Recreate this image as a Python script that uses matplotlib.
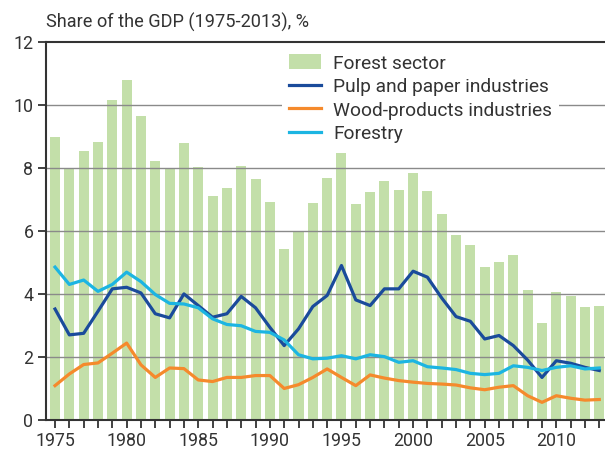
import numpy as np
import matplotlib.pyplot as plt

years = list(range(1975, 2014))

forest_sector = [8.97, 7.95, 8.52, 8.83, 10.14, 10.8, 9.63, 8.23, 7.99, 8.8,
                 8.02, 7.09, 7.37, 8.05, 7.66, 6.91, 5.43, 6.01, 6.88, 7.69,
                 8.46, 6.84, 7.22, 7.57, 7.31, 7.82, 7.25, 6.52, 5.88, 5.54,
                 4.84, 5.0, 5.22, 4.11, 3.07, 4.05, 3.92, 3.58, 3.61]

pulp_paper = [3.52, 2.70, 2.75, 3.45, 4.16, 4.21, 4.03, 3.37, 3.24, 4.0,
              3.63, 3.26, 3.37, 3.92, 3.56, 2.94, 2.36, 2.89, 3.6, 3.95,
              4.9, 3.81, 3.63, 4.16, 4.16, 4.72, 4.53, 3.87, 3.28, 3.13,
              2.57, 2.68, 2.36, 1.9, 1.35, 1.88, 1.8, 1.67, 1.57]

wood_products = [1.09, 1.46, 1.76, 1.81, 2.12, 2.44, 1.75, 1.35, 1.65, 1.63,
                 1.27, 1.22, 1.35, 1.35, 1.41, 1.41, 1.0, 1.12, 1.35, 1.62,
                 1.35, 1.09, 1.43, 1.33, 1.25, 1.2, 1.16, 1.14, 1.11, 1.02,
                 0.96, 1.04, 1.09, 0.77, 0.56, 0.77, 0.69, 0.63, 0.65]

forestry = [4.85, 4.3, 4.44, 4.08, 4.3, 4.69, 4.39, 3.98, 3.7, 3.68,
            3.56, 3.21, 3.03, 2.99, 2.81, 2.78, 2.54, 2.07, 1.94, 1.96,
            2.04, 1.94, 2.07, 2.01, 1.83, 1.88, 1.69, 1.65, 1.6, 1.48,
            1.44, 1.48, 1.72, 1.67, 1.57, 1.67, 1.72, 1.62, 1.65]

plt.rcParams['font.family'] = ['Roboto', 'DejaVu Sans']
dark = '#333333'

fig = plt.figure(figsize=(6.05, 4.55), dpi=100)
ax = fig.add_axes([46 / 605, 35 / 455, 1 - 46 / 605, (420 - 41.7) / 455])

bars = ax.bar(years, forest_sector, width=0.7, color='#c3dfa9', zorder=1, label='Forest sector')
for v in [2, 4, 6, 8, 10]:
    ax.axhline(v, color='#8a8a8a', lw=1.0, zorder=1.5)
l1, = ax.plot(years, pulp_paper, color='#1a4b9b', lw=2.3, zorder=3, label='Pulp and paper industries')
l2, = ax.plot(years, wood_products, color='#f58a2c', lw=2.3, zorder=3, label='Wood-products industries')
l3, = ax.plot(years, forestry, color='#1cb5e2', lw=2.3, zorder=3, label='Forestry')

ax.set_xlim(1974.37, 2013.4)
ax.set_ylim(0, 12)
ax.set_xticks(range(1975, 2014, 5))
ax.set_xticks(years, minor=True)
ax.set_yticks(range(0, 13, 2))
ax.tick_params(axis='both', which='both', direction='out', colors=dark, labelsize=12.8, width=1.3)
ax.tick_params(axis='x', which='major', length=6, pad=3)
ax.tick_params(axis='x', which='minor', length=6)
ax.tick_params(axis='y', length=6, pad=3)

for s in ['left', 'bottom', 'top']:
    ax.spines[s].set_color(dark)
    ax.spines[s].set_linewidth(1.5)
ax.spines['right'].set_visible(False)

handles = [bars, l1, l2, l3]
leg = ax.legend(handles, [h.get_label() for h in handles],
                loc='upper left', bbox_to_anchor=(0.4227, 0.984), frameon=True, fontsize=13.8,
                handlelength=1.67, handleheight=0.82, handletextpad=0.63, labelspacing=0.28,
                borderpad=0.35, borderaxespad=0.0, labelcolor=dark)
leg.get_frame().set_facecolor('white')
leg.get_frame().set_edgecolor('none')
leg.get_frame().set_alpha(1)
leg.set_zorder(5)

ax.text(0, 1.025, 'Share of the GDP (1975-2013), %', transform=ax.transAxes,
        ha='left', va='bottom', fontsize=13.1, color=dark)

fig.savefig('out.png', dpi=100)
